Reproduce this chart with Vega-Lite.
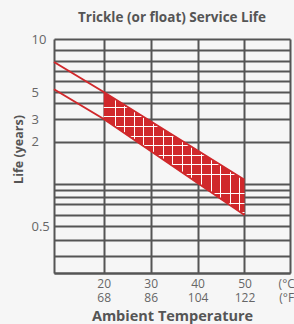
{
  "$schema": "https://vega.github.io/schema/vega-lite/v6.json",
  "width": 236,
  "height": 234,
  "autosize": {"type": "none"},
  "padding": {"left": 54, "top": 39, "right": 4, "bottom": 51},
  "background": "#f6f6f6",
  "title": {
    "text": "Trickle (or float) Service Life",
    "font": "Open Sans",
    "fontSize": 13.5,
    "fontWeight": "bold",
    "color": "#555555",
    "frame": "group",
    "anchor": "middle",
    "baseline": "alphabetic",
    "offset": -2
  },
  "datasets": {
    "lines": [
      {"series": "upper", "temp": 9.4, "life": 7.9},
      {"series": "upper", "temp": 20, "life": 5},
      {"series": "upper", "temp": 50, "life": 1.1},
      {"series": "lower", "temp": 9.4, "life": 5.25},
      {"series": "lower", "temp": 20, "life": 3},
      {"series": "lower", "temp": 50, "life": 0.6}
    ],
    "band": [
      {"temp": 20, "hi": 5, "lo": 3},
      {"temp": 50, "hi": 1.1, "lo": 0.6}
    ]
  },
  "encoding": {
    "x": {
      "field": "temp",
      "type": "quantitative",
      "scale": {"domain": [9.4, 59.7], "nice": false, "zero": false},
      "axis": {
        "title": "Ambient Temperature",
        "values": [20, 30, 40, 50, 59.7],
        "tickCount": 50,
        "labelFlush": false,
        "labelExpr": "datum.value == 20 ? ['20','68'] : datum.value == 30 ? ['30','86'] : datum.value == 40 ? ['40','104'] : datum.value == 50 ? ['50','122'] : ['(°C)','(°F)']",
        "labelOffset": {"condition": {"test": "datum.value > 55", "value": -2}, "value": 0},
        "labelPadding": 5,
        "labelLineHeight": 14,
        "ticks": false,
        "titleFontSize": 14.5,
        "titlePadding": 6
      }
    }
  },
  "layer": [
    {
      "data": {"name": "band"},
      "mark": {
        "type": "area",
        "fill": {
          "gradient": "linear", "x1": 0, "y1": 0, "x2": 1, "y2": 0,
          "stops": [
            {"offset": 0, "color": "#d0282b"},
            {"offset": 0.078, "color": "#d0282b"}, {"offset": 0.078, "color": "#ffffff"}, {"offset": 0.0855, "color": "#ffffff"}, {"offset": 0.0855, "color": "#d0282b"},
            {"offset": 0.146, "color": "#d0282b"}, {"offset": 0.146, "color": "#ffffff"}, {"offset": 0.1535, "color": "#ffffff"}, {"offset": 0.1535, "color": "#d0282b"},
            {"offset": 0.214, "color": "#d0282b"}, {"offset": 0.214, "color": "#ffffff"}, {"offset": 0.2215, "color": "#ffffff"}, {"offset": 0.2215, "color": "#d0282b"},
            {"offset": 0.282, "color": "#d0282b"}, {"offset": 0.282, "color": "#ffffff"}, {"offset": 0.2895, "color": "#ffffff"}, {"offset": 0.2895, "color": "#d0282b"},
            {"offset": 0.35, "color": "#d0282b"}, {"offset": 0.35, "color": "#ffffff"}, {"offset": 0.3575, "color": "#ffffff"}, {"offset": 0.3575, "color": "#d0282b"},
            {"offset": 0.418, "color": "#d0282b"}, {"offset": 0.418, "color": "#ffffff"}, {"offset": 0.4255, "color": "#ffffff"}, {"offset": 0.4255, "color": "#d0282b"},
            {"offset": 0.487, "color": "#d0282b"}, {"offset": 0.487, "color": "#ffffff"}, {"offset": 0.4945, "color": "#ffffff"}, {"offset": 0.4945, "color": "#d0282b"},
            {"offset": 0.555, "color": "#d0282b"}, {"offset": 0.555, "color": "#ffffff"}, {"offset": 0.5625, "color": "#ffffff"}, {"offset": 0.5625, "color": "#d0282b"},
            {"offset": 0.623, "color": "#d0282b"}, {"offset": 0.623, "color": "#ffffff"}, {"offset": 0.6305, "color": "#ffffff"}, {"offset": 0.6305, "color": "#d0282b"},
            {"offset": 0.691, "color": "#d0282b"}, {"offset": 0.691, "color": "#ffffff"}, {"offset": 0.6985, "color": "#ffffff"}, {"offset": 0.6985, "color": "#d0282b"},
            {"offset": 0.759, "color": "#d0282b"}, {"offset": 0.759, "color": "#ffffff"}, {"offset": 0.7665, "color": "#ffffff"}, {"offset": 0.7665, "color": "#d0282b"},
            {"offset": 0.827, "color": "#d0282b"}, {"offset": 0.827, "color": "#ffffff"}, {"offset": 0.8345, "color": "#ffffff"}, {"offset": 0.8345, "color": "#d0282b"},
            {"offset": 0.895, "color": "#d0282b"}, {"offset": 0.895, "color": "#ffffff"}, {"offset": 0.9025, "color": "#ffffff"}, {"offset": 0.9025, "color": "#d0282b"},
            {"offset": 0.963, "color": "#d0282b"}, {"offset": 0.963, "color": "#ffffff"}, {"offset": 0.9705, "color": "#ffffff"}, {"offset": 0.9705, "color": "#d0282b"},
            {"offset": 1, "color": "#d0282b"}
          ]
        }
      },
      "encoding": {
        "y": {"field": "hi", "type": "quantitative"},
        "y2": {"field": "lo"}
      }
    },
    {
      "data": {"name": "band"},
      "mark": {
        "type": "area",
        "fill": {
          "gradient": "linear", "x1": 0, "y1": 0, "x2": 0, "y2": 1,
          "stops": [
            {"offset": 0, "color": "rgba(255,255,255,0)"},
            {"offset": 0.12, "color": "rgba(255,255,255,0)"}, {"offset": 0.12, "color": "#ffffff"}, {"offset": 0.128, "color": "#ffffff"}, {"offset": 0.128, "color": "rgba(255,255,255,0)"},
            {"offset": 0.198, "color": "rgba(255,255,255,0)"}, {"offset": 0.198, "color": "#ffffff"}, {"offset": 0.206, "color": "#ffffff"}, {"offset": 0.206, "color": "rgba(255,255,255,0)"},
            {"offset": 0.276, "color": "rgba(255,255,255,0)"}, {"offset": 0.276, "color": "#ffffff"}, {"offset": 0.284, "color": "#ffffff"}, {"offset": 0.284, "color": "rgba(255,255,255,0)"},
            {"offset": 0.354, "color": "rgba(255,255,255,0)"}, {"offset": 0.354, "color": "#ffffff"}, {"offset": 0.362, "color": "#ffffff"}, {"offset": 0.362, "color": "rgba(255,255,255,0)"},
            {"offset": 0.432, "color": "rgba(255,255,255,0)"}, {"offset": 0.432, "color": "#ffffff"}, {"offset": 0.44, "color": "#ffffff"}, {"offset": 0.44, "color": "rgba(255,255,255,0)"},
            {"offset": 0.51, "color": "rgba(255,255,255,0)"}, {"offset": 0.51, "color": "#ffffff"}, {"offset": 0.518, "color": "#ffffff"}, {"offset": 0.518, "color": "rgba(255,255,255,0)"},
            {"offset": 0.588, "color": "rgba(255,255,255,0)"}, {"offset": 0.588, "color": "#ffffff"}, {"offset": 0.596, "color": "#ffffff"}, {"offset": 0.596, "color": "rgba(255,255,255,0)"},
            {"offset": 0.666, "color": "rgba(255,255,255,0)"}, {"offset": 0.666, "color": "#ffffff"}, {"offset": 0.674, "color": "#ffffff"}, {"offset": 0.674, "color": "rgba(255,255,255,0)"},
            {"offset": 0.744, "color": "rgba(255,255,255,0)"}, {"offset": 0.744, "color": "#ffffff"}, {"offset": 0.752, "color": "#ffffff"}, {"offset": 0.752, "color": "rgba(255,255,255,0)"},
            {"offset": 0.822, "color": "rgba(255,255,255,0)"}, {"offset": 0.822, "color": "#ffffff"}, {"offset": 0.83, "color": "#ffffff"}, {"offset": 0.83, "color": "rgba(255,255,255,0)"},
            {"offset": 0.9, "color": "rgba(255,255,255,0)"}, {"offset": 0.9, "color": "#ffffff"}, {"offset": 0.908, "color": "#ffffff"}, {"offset": 0.908, "color": "rgba(255,255,255,0)"},
            {"offset": 0.978, "color": "rgba(255,255,255,0)"}, {"offset": 0.978, "color": "#ffffff"}, {"offset": 0.986, "color": "#ffffff"}, {"offset": 0.986, "color": "rgba(255,255,255,0)"},
            {"offset": 1, "color": "rgba(255,255,255,0)"}
          ]
        }
      },
      "encoding": {
        "y": {"field": "hi", "type": "quantitative"},
        "y2": {"field": "lo"}
      }
    },
    {
      "data": {"name": "lines"},
      "mark": {"type": "line", "color": "#d0282b", "strokeWidth": 2},
      "encoding": {
        "y": {
          "field": "life",
          "type": "quantitative",
          "scale": {
            "type": "linear",
            "domain": [0.2, 0.3, 0.4, 0.5, 0.6, 0.7, 0.8, 0.9, 1, 2, 3, 4, 5, 6, 7, 8, 9, 10],
            "range": [234, 216.7, 200.7, 187, 176, 164.7, 158.3, 150.7, 145, 102.7, 80, 63.5, 53, 42, 32, 22, 11, 0],
            "nice": false,
            "zero": false
          },
          "axis": {
            "title": "Life (years)",
            "values": [0.2, 0.3, 0.4, 0.5, 0.6, 0.7, 0.8, 0.9, 1, 2, 3, 4, 5, 6, 7, 8, 9, 10],
            "tickCount": 100,
            "labelExpr": "indexof([10, 5, 3, 2, 0.5], datum.value) >= 0 ? '' + datum.value : ''",
            "labelAlign": "left",
            "labelBaseline": "middle",
            "labelPadding": 23,
            "labelFontSize": 13,
            "ticks": false,
            "titleFontSize": 12.5,
            "titleY": 110,
            "titlePadding": 6
          }
        },
        "detail": {"field": "series"}
      }
    }
  ],
  "config": {
    "view": {"stroke": null},
    "axis": {
      "grid": true,
      "gridColor": "#555555",
      "gridWidth": 2,
      "gridOpacity": 1,
      "domainColor": "#555555",
      "domainWidth": 2,
      "labelFont": "Open Sans",
      "labelFontSize": 12,
      "labelColor": "#666666",
      "titleFont": "Open Sans",
      "titleFontSize": 12,
      "titleFontWeight": "bold",
      "titleColor": "#555555"
    }
  }
}
